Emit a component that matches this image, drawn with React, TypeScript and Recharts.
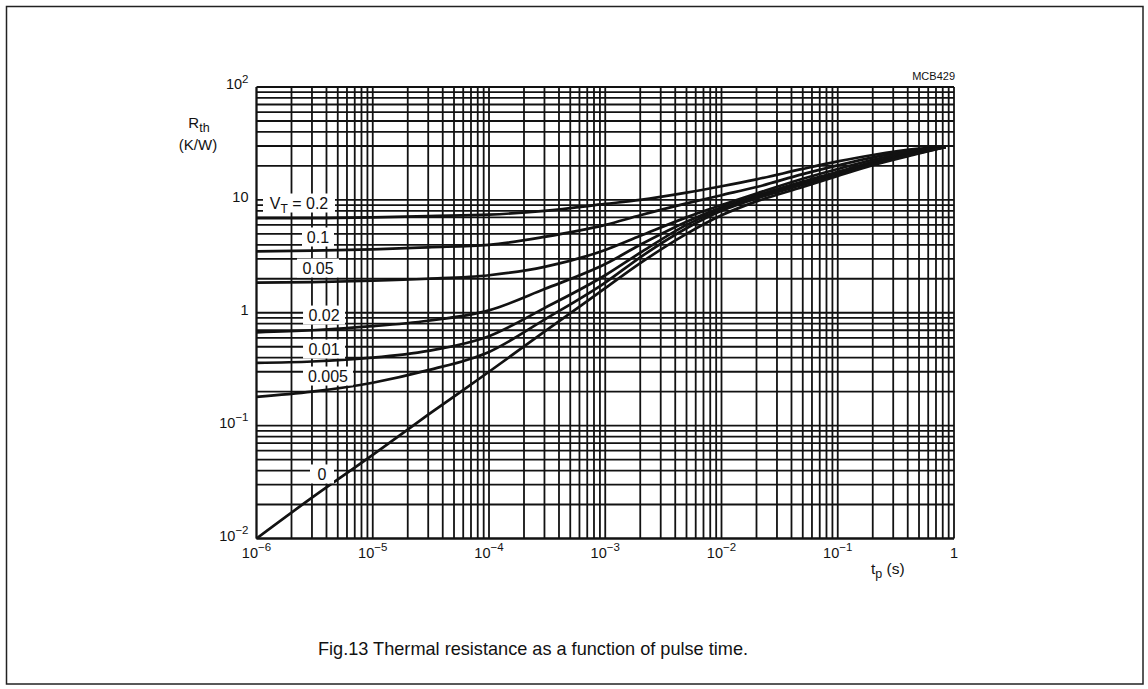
import React from 'react';
import { LineChart, Line, XAxis, YAxis, CartesianGrid, ReferenceDot } from 'recharts';

// ---- data ----
const pulseTimes = [1e-6, 3e-6, 1e-5, 3e-5, 1e-4, 3e-4, 1e-3, 2e-3, 5e-3, 1e-2, 2e-2, 5e-2, 0.1, 0.2, 0.5, 0.85];

const rthDuty020 = [6.9, 6.9, 7.0, 7.2, 7.4, 8.0, 9.2, 10.0, 11.6, 13.2, 15.2, 18.8, 21.9, 25.0, 28.4, 29.5];
const rthDuty010 = [3.5, 3.55, 3.65, 3.8, 4.0, 4.7, 6.0, 7.3, 9.3, 11.0, 13.0, 16.9, 20.2, 23.8, 27.9, 29.5];
const rthDuty005 = [1.85, 1.87, 1.92, 2.0, 2.15, 2.55, 3.6, 4.8, 7.0, 9.0, 11.4, 15.4, 18.8, 22.7, 27.4, 29.5];
const rthDuty002 = [0.67, 0.7, 0.76, 0.85, 1.05, 1.62, 2.7, 4.0, 6.4, 8.6, 10.9, 14.5, 17.7, 21.7, 26.8, 29.5];
const rthDuty001 = [0.36, 0.37, 0.4, 0.46, 0.62, 1.1, 2.15, 3.4, 6.0, 8.3, 10.6, 14.0, 17.1, 21.1, 26.4, 29.5];
const rthDuty0005 = [0.18, 0.2, 0.24, 0.31, 0.45, 0.87, 1.85, 3.1, 5.6, 8.0, 10.3, 13.6, 16.7, 20.7, 26.1, 29.5];
const rthDuty000 = [0.01, 0.023, 0.055, 0.125, 0.3, 0.68, 1.65, 2.75, 5.0, 7.3, 9.7, 13.0, 16.3, 20.3, 25.8, 29.5];

const seriesList = [
  { name: '0.2', values: rthDuty020 },
  { name: '0.1', values: rthDuty010 },
  { name: '0.05', values: rthDuty005 },
  { name: '0.02', values: rthDuty002 },
  { name: '0.01', values: rthDuty001 },
  { name: '0.005', values: rthDuty0005 },
  { name: '0', values: rthDuty000 },
];

// curve labels: text and anchor in data coordinates (t, Rth)
const labelTexts = ['V_T = 0.2', '0.1', '0.05', '0.02', '0.01', '0.005', '0'];
const labelTimes = [2.32e-6, 3.38e-6, 3.38e-6, 3.81e-6, 3.81e-6, 4.12e-6, 3.66e-6];
const labelRth = [9.38, 4.69, 2.49, 0.954, 0.477, 0.275, 0.0373];
const labelWidths = [72, 32, 42, 42, 42, 50, 24];

// axes
const xDecades = [1e-6, 1e-5, 1e-4, 1e-3, 1e-2, 1e-1, 1];
const yDecades = [1e-2, 1e-1, 1, 10, 100];
const gridMultipliers = [1, 2, 3, 4, 5, 6, 7, 8, 9];

const xTicks: number[] = [];
xDecades.forEach((d, i) => {
  if (i === xDecades.length - 1) xTicks.push(d);
  else gridMultipliers.forEach((m) => xTicks.push(m * d));
});
const yTicks: number[] = [];
yDecades.forEach((d, i) => {
  if (i === yDecades.length - 1) yTicks.push(d);
  else gridMultipliers.forEach((m) => yTicks.push(m * d));
});

const FONT = 'Liberation Sans, Arial, Helvetica, sans-serif';
const INK = '#121212';

function decadeExp(v: number): number | null {
  const l = Math.log10(v);
  const e = Math.round(l);
  return Math.abs(l - e) < 1e-6 ? e : null;
}

function PowerLabel({ e, x, y, anchor }: { e: number; x: number; y: number; anchor: string }) {
  if (e === 0) {
    return (
      <text x={x} y={y} textAnchor={anchor} fontSize={14.5} fontFamily={FONT} fill={INK}>1</text>
    );
  }
  if (e === 1) {
    return (
      <text x={x} y={y} textAnchor={anchor} fontSize={14.5} fontFamily={FONT} fill={INK}>10</text>
    );
  }
  const sup = e < 0 ? '\u2212' + Math.abs(e) : String(e);
  return (
    <text x={x} y={y} textAnchor={anchor} fontSize={14.5} fontFamily={FONT} fill={INK}>
      10<tspan dy={-6.5} fontSize={11.5}>{sup}</tspan>
    </text>
  );
}

const XTick = (props: any) => {
  const { x, y, payload } = props;
  const e = decadeExp(payload.value);
  if (e === null) return <g />;
  return <PowerLabel e={e} x={x} y={y + 11} anchor="middle" />;
};

const YTick = (props: any) => {
  const { x, y, payload } = props;
  const e = decadeExp(payload.value);
  if (e === null) return <g />;
  return <PowerLabel e={e} x={x} y={y + 2} anchor="end" />;
};

const makeLabelShape = (text: string, w: number) => (props: any) => {
  const { cx, cy } = props;
  if (cx == null || cy == null) return <g />;
  const isVT = text.startsWith('V_T');
  return (
    <g>
      <rect x={cx - w / 2} y={cy - 9.5} width={w} height={19} fill="#fff" />
      {isVT ? (
        <text x={cx} y={cy + 6} textAnchor="middle" fontSize={16} fontFamily={FONT} fill={INK}>
          V<tspan dy={4} fontSize={12}>T</tspan>
          <tspan dy={-4}>{' = 0.2'}</tspan>
        </text>
      ) : (
        <text x={cx} y={cy + 6} textAnchor="middle" fontSize={16} fontFamily={FONT} fill={INK}>
          {text}
        </text>
      )}
    </g>
  );
};

export default function App() {
  return (
    <div style={{ position: 'absolute', left: 0, top: 0, width: 1148, height: 689, background: '#fff' }}>
      <LineChart
        width={1148}
        height={689}
        margin={{ top: 87, right: 194, bottom: 120.5, left: 196.5 }}
      >
        <CartesianGrid stroke={INK} strokeWidth={1.8} />
        <XAxis
          dataKey="t"
          type="number"
          scale="log"
          domain={[1e-6, 1]}
          ticks={xTicks}
          interval={0}
          allowDataOverflow
          tickLine={false}
          axisLine={{ stroke: INK, strokeWidth: 1.8 }}
          tick={<XTick />}
          height={30}
        />
        <YAxis
          type="number"
          scale="log"
          domain={[0.01, 100]}
          ticks={yTicks}
          interval={0}
          allowDataOverflow
          tickLine={false}
          axisLine={{ stroke: INK, strokeWidth: 1.8 }}
          tick={<YTick />}
          width={60}
        />
        {seriesList.map((s) => (
          <Line
            key={s.name}
            data={pulseTimes.map((t, i) => ({ t, r: s.values[i] }))}
            dataKey="r"
            type="monotone"
            stroke={INK}
            strokeWidth={2.7}
            dot={false}
            isAnimationActive={false}
          />
        ))}
        {labelTexts.map((txt, i) => (
          <ReferenceDot
            key={txt}
            x={labelTimes[i]}
            y={labelRth[i]}
            r={0}
            ifOverflow="visible"
            shape={makeLabelShape(txt, labelWidths[i])}
          />
        ))}
      </LineChart>
      <svg
        width={1148}
        height={689}
        style={{ position: 'absolute', left: 0, top: 0, pointerEvents: 'none' }}
      >
        <rect x={6.5} y={6.5} width={1136.5} height={677.5} fill="none" stroke="#222" strokeWidth={1.5} />
        <text x={199} y={128} textAnchor="middle" fontSize={15} fontFamily={FONT} fill={INK}>
          R<tspan dy={4} fontSize={12.5}>th</tspan>
        </text>
        <text x={198} y={150} textAnchor="middle" fontSize={15} fontFamily={FONT} fill={INK}>
          (K/W)
        </text>
        <text x={955} y={80} textAnchor="end" fontSize={11} fontFamily={FONT} fill={INK}>
          MCB429
        </text>
        <text x={871} y={574} fontSize={15.5} fontFamily={FONT} fill={INK}>
          t<tspan dy={4} fontSize={12.5}>p</tspan>
          <tspan dy={-4}>{' (s)'}</tspan>
        </text>
        <text
          x={318}
          y={655}
          fontSize={18.5}
          fontFamily={FONT}
          fill={INK}
          textLength={430}
          lengthAdjust="spacingAndGlyphs"
        >
          Fig.13 Thermal resistance as a function of pulse time.
        </text>
      </svg>
    </div>
  );
}
